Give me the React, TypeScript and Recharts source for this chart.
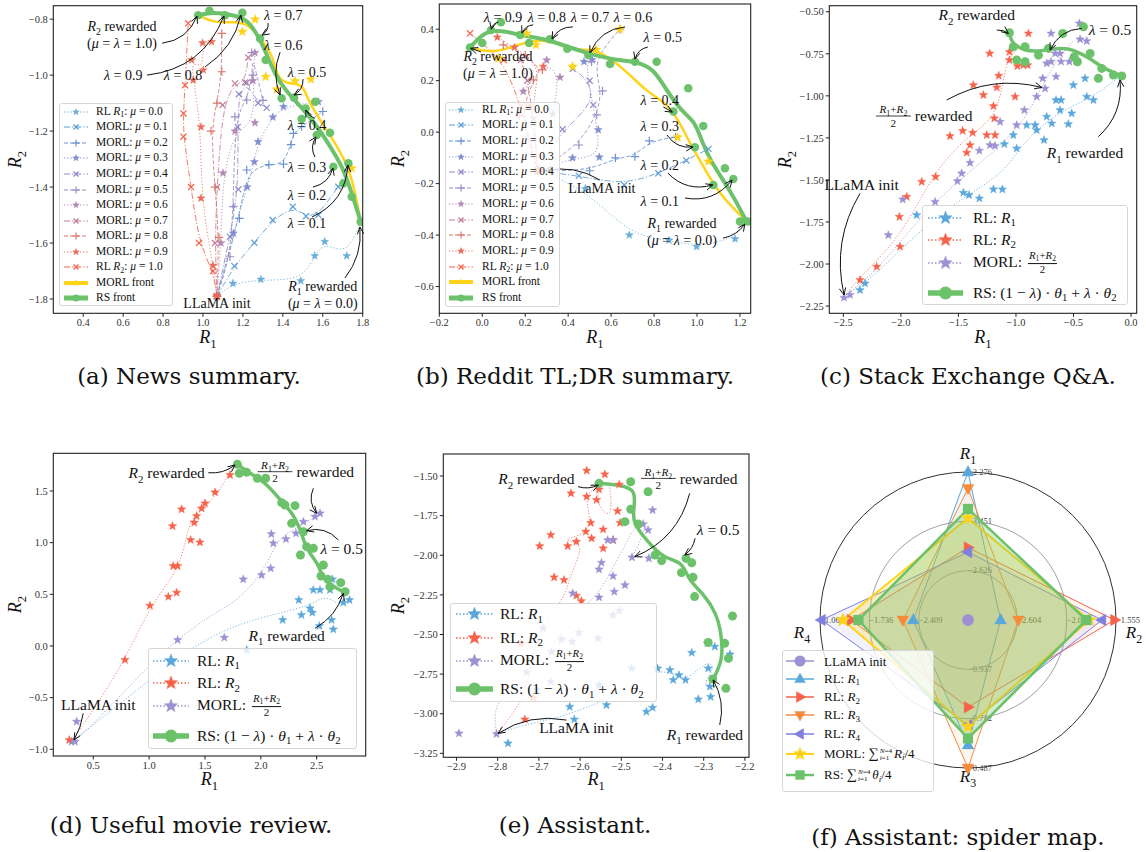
import React from 'react';
import {
  ComposedChart,
  Line,
  Scatter,
  XAxis,
  YAxis,
  RadarChart,
  Radar,
  PolarGrid,
  PolarAngleAxis,
  PolarRadiusAxis,
} from 'recharts';

type Pt = [number, number];
type MarkerKind = 'star' | 'x' | 'plus' | 'circle' | 'square' | 'triUp' | 'triDown' | 'triLeft' | 'triRight';

const SERIF = "'Liberation Serif', 'DejaVu Serif', serif";
const CAPTION_FONT = "'DejaVu Serif', serif";

const BLUE = '#5aa7db';
const RED = '#f7634a';
const PURPLE = '#9d90d3';
const GREEN = '#6cc26b';
const GOLD = '#ffd319';
const ORANGE = '#f68b3c';
const INDIGO = '#7f7fe0';

// mu sweep (news / reddit): blue for mu = 0 through to red for mu = 1
const MU = [0.0, 0.1, 0.2, 0.3, 0.4, 0.5, 0.6, 0.7, 0.8, 0.9, 1.0];
const MU_COLORS = ['#6aaed8', '#5b9bd5', '#6a93d0', '#7f8ecf', '#8b89c9', '#9b8cc6', '#b088b4', '#c07c95', '#d9786f', '#ea6d58', '#f5634a'];
const MU_MARKERS: MarkerKind[] = ['star', 'x', 'plus'];
const MU_DASHES = ['1.2 2', '6 2 1.2 2', '4 2'];

// ---------------- (a) news summary ----------------
const newsXTicks = [0.4, 0.6, 0.8, 1.0, 1.2, 1.4, 1.6, 1.8];
const newsYTicks = [-1.8, -1.6, -1.4, -1.2, -1.0, -0.8];
const newsTraj: Pt[][] = [
  [[1.07, -1.79], [1.15, -1.744], [1.29, -1.73], [1.49, -1.735], [1.56, -1.646], [1.61, -1.595], [1.72, -1.646], [1.79, -1.524]],
  [[1.07, -1.79], [1.157, -1.682], [1.257, -1.599], [1.349, -1.518], [1.45, -1.47], [1.516, -1.504], [1.578, -1.5], [1.678, -1.399], [1.728, -1.333]],
  [[1.07, -1.79], [1.182, -1.512], [1.219, -1.339], [1.33, -1.32], [1.403, -1.318], [1.441, -1.248], [1.453, -1.208], [1.494, -1.184], [1.6, -1.13]],
  [[1.07, -1.79], [1.152, -1.565], [1.221, -1.4], [1.257, -1.31], [1.276, -1.238], [1.35, -1.15], [1.403, -1.113], [1.578, -1.095]],
  [[1.07, -1.79], [1.135, -1.577], [1.177, -1.408], [1.174, -1.185], [1.18, -1.068], [1.219, -1.027], [1.276, -1.1], [1.319, -1.117]],
  [[1.07, -1.79], [1.135, -1.649], [1.152, -1.47], [1.16, -1.149], [1.219, -1.089], [1.25, -1.0], [1.244, -0.92], [1.3, -1.09]],
  [[1.07, -1.79], [1.09, -1.6], [1.1, -1.35], [1.16, -1.2], [1.26, -1.17], [1.25, -1.02], [1.26, -0.92]],
  [[1.07, -1.79], [1.06, -1.6], [1.07, -1.4], [1.098, -1.107], [1.16, -1.03], [1.21, -1.026], [1.227, -0.937]],
  [[1.07, -1.79], [1.08, -1.58], [1.06, -1.4], [1.04, -1.2], [1.07, -1.1], [1.094, -0.988], [1.094, -0.851]],
  [[1.07, -1.79], [1.05, -1.68], [0.99, -1.44], [0.99, -1.185], [0.951, -1.018], [0.943, -0.946], [1.001, -0.982], [0.998, -0.885], [1.043, -0.881]],
  [[1.07, -1.79], [1.05, -1.7], [0.98, -1.6], [0.94, -1.4], [0.902, -1.22], [0.902, -1.137], [0.91, -1.036], [0.926, -0.815]],
];
const newsMorlFront: Pt[] = [
  [0.976, -0.786], [1.052, -0.813], [1.152, -0.81], [1.227, -0.815], [1.302, -0.881], [1.352, -0.935], [1.377, -1.024],
  [1.451, -1.03], [1.501, -1.036], [1.526, -1.089], [1.586, -1.161], [1.653, -1.232], [1.72, -1.315], [1.757, -1.399], [1.79, -1.524],
];
const newsMorlStars: Pt[] = [[1.261, -0.801], [1.197, -0.845], [1.314, -1.006], [1.369, -1.051], [1.461, -1.021], [1.54, -1.015], [1.745, -1.333]];
const newsRsFront: Pt[] = [
  [0.976, -0.786], [1.05, -0.775], [1.15, -0.785], [1.227, -0.8], [1.3, -0.89], [1.36, -1.0], [1.42, -1.06],
  [1.5, -1.12], [1.58, -1.19], [1.65, -1.27], [1.7, -1.33], [1.74, -1.41], [1.79, -1.524],
];
const newsRsDots: Pt[] = [
  [0.976, -0.786], [1.032, -0.77], [1.11, -0.786], [1.197, -0.777], [1.286, -0.869], [1.314, -0.946], [1.394, -1.083],
  [1.456, -1.081], [1.562, -1.095], [1.514, -1.119], [1.494, -1.157], [1.57, -1.214], [1.636, -1.206], [1.653, -1.327],
  [1.728, -1.315], [1.703, -1.387], [1.745, -1.435], [1.79, -1.524],
];

// ---------------- (b) reddit TL;DR ----------------
const redditXTicks = [-0.2, 0.0, 0.2, 0.4, 0.6, 0.8, 1.0, 1.2];
const redditYTicks = [-0.6, -0.4, -0.2, 0.0, 0.2, 0.4];
const redditTraj: Pt[][] = [
  [[0.26, -0.15], [0.48, -0.22], [0.685, -0.4], [0.87, -0.42], [0.998, -0.445], [1.177, -0.415], [1.231, -0.347]],
  [[0.26, -0.15], [0.45, -0.17], [0.661, -0.205], [0.82, -0.16], [0.95, -0.11], [1.053, -0.065]],
  [[0.26, -0.15], [0.5, -0.15], [0.62, -0.1], [0.711, -0.095], [0.778, -0.034], [0.9, -0.02]],
  [[0.26, -0.15], [0.42, -0.1], [0.545, -0.097], [0.54, 0.009], [0.474, 0.274], [0.512, 0.281]],
  [[0.26, -0.15], [0.374, 0.011], [0.517, 0.106], [0.5, 0.2], [0.421, 0.246]],
  [[0.26, -0.15], [0.45, -0.05], [0.533, 0.067], [0.56, 0.16], [0.509, 0.274], [0.641, 0.4]],
  [[0.26, -0.15], [0.328, 0.07], [0.362, 0.213], [0.3, 0.28], [0.191, 0.158]],
  [[0.26, -0.15], [0.24, 0.05], [0.21, 0.2], [0.18, 0.28]],
  [[0.26, -0.15], [0.172, 0.063], [0.238, 0.203], [0.28, 0.242], [0.2, 0.3], [0.098, 0.339]],
  [[0.26, -0.15], [0.22, 0.1], [0.284, 0.255], [0.15, 0.33], [0.07, 0.369]],
  [[0.26, -0.15], [0.18, 0.1], [0.1, 0.28], [-0.057, 0.384]],
];
const redditMorlFront: Pt[] = [
  [-0.057, 0.329], [0.051, 0.307], [0.145, 0.333], [0.238, 0.359], [0.331, 0.352], [0.416, 0.32], [0.471, 0.32], [0.525, 0.32],
  [0.595, 0.287], [0.672, 0.236], [0.765, 0.158], [0.858, 0.112], [0.913, 0.048], [0.967, -0.043], [1.021, -0.121],
  [1.091, -0.224], [1.169, -0.296], [1.231, -0.347],
];
const redditMorlStars: Pt[] = [[0.075, 0.287], [0.207, 0.384], [0.25, 0.339], [0.421, 0.255], [0.53, 0.32], [0.641, 0.4], [0.91, -0.02], [1.053, -0.114]];
const redditRsFront: Pt[] = [
  [-0.057, 0.329], [-0.011, 0.372], [0.041, 0.397], [0.114, 0.391], [0.207, 0.372], [0.3, 0.361], [0.393, 0.333], [0.502, 0.304],
  [0.61, 0.281], [0.719, 0.274], [0.796, 0.248], [0.858, 0.164], [0.921, 0.087], [0.99, 0.041], [1.014, -0.017], [1.06, -0.108],
  [1.122, -0.186], [1.169, -0.25], [1.231, -0.347],
];
const redditRsDots: Pt[] = [
  [-0.057, 0.329], [0.0, 0.346], [0.041, 0.397], [0.087, 0.427], [0.176, 0.378], [0.218, 0.346], [0.315, 0.361], [0.396, 0.324],
  [0.494, 0.3], [0.595, 0.265], [0.711, 0.274], [0.812, 0.274], [0.89, 0.08], [0.959, 0.171], [1.029, 0.024], [0.99, -0.059],
  [1.13, -0.14], [1.076, -0.205], [1.169, -0.182], [1.2, -0.347], [1.236, -0.347],
];

// ---------------- (c) stack exchange ----------------
const stackXTicks = [-2.5, -2.0, -1.5, -1.0, -0.5, 0.0];
const stackYTicks = [-2.25, -2.0, -1.75, -1.5, -1.25, -1.0, -0.75, -0.5];
const stackR1Path: Pt[] = [[-2.5, -2.194], [-2.268, -2.095], [-1.979, -1.897], [-1.689, -1.719], [-1.399, -1.58], [-1.11, -1.461], [-0.965, -1.303], [-0.762, -1.164], [-0.53, -1.065], [-0.327, -1.005], [-0.081, -0.877]];
const stackR1Stars: Pt[] = [
  [-2.355, -2.155], [-2.312, -2.115], [-1.863, -1.709], [-1.457, -1.576], [-1.408, -1.59], [-1.318, -1.61], [-1.196, -1.556],
  [-1.118, -1.556], [-1.023, -1.233], [-0.994, -1.313], [-1.101, -1.287], [-0.907, -1.174], [-0.834, -1.174], [-0.82, -1.204],
  [-0.733, -1.124], [-0.756, -1.263], [-0.689, -1.164], [-0.652, -1.025], [-0.617, -1.085], [-0.608, -1.025], [-0.545, -1.168],
  [-0.516, -1.104], [-0.501, -0.936], [-0.4, -0.896], [-0.385, -1.005], [-0.327, -1.025],
];
const stackR2Path: Pt[] = [[-2.5, -2.194], [-2.268, -2.016], [-2.037, -1.858], [-1.834, -1.62], [-1.689, -1.441], [-1.457, -1.263], [-1.283, -1.184], [-1.167, -1.085], [-1.11, -0.926], [-1.081, -0.787], [-0.994, -0.728]];
const stackR2Stars: Pt[] = [
  [-2.355, -2.095], [-2.21, -2.016], [-2.007, -1.897], [-2.013, -1.719], [-1.949, -1.6], [-1.819, -1.511], [-1.698, -1.481],
  [-1.573, -1.239], [-1.463, -1.208], [-1.376, -1.219], [-1.399, -1.293], [-1.428, -1.338], [-1.254, -1.233], [-1.182, -1.233],
  [-1.37, -0.936], [-1.283, -0.995], [-1.228, -0.748], [-1.167, -0.95], [-1.15, -0.88], [-1.188, -1.134], [-1.196, -1.061],
  [-1.057, -0.738], [-1.057, -0.787], [-1.008, -1.005], [-0.988, -0.823], [-0.936, -0.817], [-0.898, -0.817], [-0.892, -0.629],
];
const stackMorlPath: Pt[] = [[-2.5, -2.194], [-2.268, -2.075], [-2.037, -1.897], [-1.747, -1.659], [-1.486, -1.501], [-1.283, -1.382], [-1.081, -1.263], [-0.907, -1.124], [-0.762, -0.926], [-0.646, -0.787], [-0.501, -0.668]];
const stackMorlStars: Pt[] = [
  [-2.494, -2.2], [-2.442, -2.184], [-2.109, -1.828], [-1.984, -1.616], [-1.703, -1.63], [-1.509, -1.507], [-1.472, -1.461],
  [-1.399, -1.398], [-1.318, -1.326], [-1.225, -1.293], [-1.182, -1.297], [-1.138, -1.154], [-0.994, -1.174], [-0.927, -1.085],
  [-0.82, -1.005], [-0.768, -0.896], [-0.747, -0.956], [-0.652, -0.886], [-0.733, -0.807], [-0.695, -0.797], [-0.66, -0.748],
  [-0.617, -0.748], [-0.608, -0.797], [-0.695, -0.629], [-0.536, -0.797], [-0.449, -0.569], [-0.443, -0.664], [-0.385, -0.674],
];
const stackRsPath: Pt[] = [[-1.057, -0.625], [-1.037, -0.688], [-0.936, -0.728], [-0.82, -0.738], [-0.675, -0.718], [-0.53, -0.718], [-0.443, -0.748], [-0.356, -0.777], [-0.24, -0.837], [-0.081, -0.882]];
const stackRsDots: Pt[] = [
  [-1.057, -0.625], [-1.023, -0.708], [-0.994, -0.787], [-0.921, -0.797], [-0.921, -0.708], [-0.805, -0.758], [-0.718, -0.718],
  [-0.594, -0.629], [-0.495, -0.768], [-0.466, -0.797], [-0.414, -0.589], [-0.356, -0.748], [-0.255, -0.837], [-0.284, -0.896],
  [-0.153, -0.876], [-0.081, -0.882],
];

// ---------------- (d) useful movie review ----------------
const movieXTicks = [0.5, 1.0, 1.5, 2.0, 2.5];
const movieYTicks = [-1.0, -0.5, 0.0, 0.5, 1.0, 1.5];
const movieR1Path: Pt[] = [[0.306, -0.926], [0.858, -0.458], [1.455, 0.058], [1.903, 0.252], [2.291, 0.348], [2.47, 0.413], [2.56, 0.477], [2.649, 0.445], [2.709, 0.381], [2.739, 0.542]];
const movieR1Stars: Pt[] = [
  [0.306, -0.926], [1.873, -0.039], [2.196, 0.252], [2.34, 0.445], [2.364, 0.3], [2.44, 0.365], [2.461, 0.323], [2.47, 0.542],
  [2.53, 0.542], [2.619, 0.542], [2.64, 0.645], [2.634, 0.252], [2.649, 0.161], [2.524, 0.194], [2.739, 0.419], [2.794, 0.445], [2.709, 0.613],
];
const movieR2Path: Pt[] = [[0.306, -0.926], [0.56, -0.523], [0.799, -0.103], [1.007, 0.381], [1.216, 0.671], [1.291, 0.865], [1.336, 1.058], [1.381, 1.252], [1.485, 1.316], [1.634, 1.51], [1.754, 1.735]];
const movieR2Stars: Pt[] = [
  [0.285, -0.91], [0.784, -0.135], [1.007, 0.39], [1.172, 0.477], [1.246, 0.516], [1.216, 0.774], [1.255, 0.774], [1.372, 1.026],
  [1.455, 1.003], [1.404, 1.194], [1.425, 1.258], [1.291, 1.323], [1.209, 1.161], [1.47, 1.332], [1.5, 1.381], [1.59, 1.487], [1.724, 1.655],
];
const movieMorlPath: Pt[] = [[0.336, -0.926], [0.709, -0.523], [1.157, -0.006], [1.575, 0.316], [1.813, 0.445], [2.052, 0.768], [2.142, 1.026], [2.291, 1.123], [2.485, 1.252]];
const movieMorlStars: Pt[] = [
  [0.336, -0.926], [0.351, -0.732], [1.255, 0.058], [1.673, 0.081], [1.843, 0.645], [2.007, 0.687], [2.088, 0.752], [2.094, 1.084],
  [2.112, 0.994], [2.225, 1.035], [2.315, 1.09], [2.381, 1.203], [2.485, 1.252], [2.53, 1.284],
];
const movieRsPath: Pt[] = [[1.79, 1.758], [1.903, 1.671], [2.052, 1.574], [2.172, 1.413], [2.291, 1.284], [2.366, 1.09], [2.41, 0.929], [2.515, 0.8], [2.545, 0.671], [2.649, 0.574], [2.739, 0.526]];
const movieRsDots: Pt[] = [
  [1.79, 1.758], [1.807, 1.671], [1.873, 1.681], [1.969, 1.623], [2.043, 1.623], [2.187, 1.387], [2.216, 1.365], [2.306, 1.358],
  [2.276, 1.187], [2.381, 1.106], [2.41, 0.961], [2.47, 0.945], [2.355, 0.881], [2.56, 0.784], [2.539, 0.677], [2.6, 0.645],
  [2.619, 0.574], [2.716, 0.613], [2.755, 0.526],
];

// ---------------- (e) assistant ----------------
const assistXTicks = [-2.9, -2.8, -2.7, -2.6, -2.5, -2.4, -2.3, -2.2];
const assistYTicks = [-3.25, -3.0, -2.75, -2.5, -2.25, -2.0, -1.75, -1.5];
const assistR1Path: Pt[] = [[-2.803, -3.124], [-2.722, -3.061], [-2.641, -3.019], [-2.56, -2.935], [-2.503, -2.872], [-2.439, -2.745], [-2.382, -2.724], [-2.344, -2.808], [-2.293, -2.661], [-2.269, -2.703], [-2.309, -2.829], [-2.261, -2.829]];
const assistR1Stars: Pt[] = [
  [-2.775, -3.187], [-2.706, -2.85], [-2.625, -2.956], [-2.614, -3.036], [-2.536, -2.945], [-2.554, -2.819], [-2.475, -2.714],
  [-2.439, -2.987], [-2.424, -2.962], [-2.412, -2.714], [-2.382, -2.724], [-2.374, -2.787], [-2.36, -2.756], [-2.344, -2.787],
  [-2.329, -2.615], [-2.313, -2.909], [-2.291, -2.556], [-2.289, -2.714], [-2.285, -2.829], [-2.283, -2.893], [-2.273, -2.577], [-2.236, -2.625],
];
const assistR2Path: Pt[] = [[-2.803, -3.124], [-2.746, -2.956], [-2.722, -2.745], [-2.698, -2.451], [-2.633, -2.261], [-2.625, -2.114], [-2.584, -1.925], [-2.649, -1.904], [-2.601, -1.883], [-2.568, -1.799], [-2.593, -1.63], [-2.552, -1.546], [-2.56, -1.694], [-2.52, -1.778], [-2.528, -1.567]];
const assistR2Stars: Pt[] = [
  [-2.584, -1.466], [-2.54, -1.489], [-2.622, -1.609], [-2.554, -1.584], [-2.584, -1.63], [-2.505, -1.553], [-2.56, -1.651],
  [-2.509, -1.721], [-2.503, -1.795], [-2.574, -1.795], [-2.671, -1.872], [-2.698, -1.942], [-2.63, -1.942], [-2.609, -1.914],
  [-2.586, -1.851], [-2.572, -1.893], [-2.544, -1.837], [-2.544, -1.956], [-2.52, -1.904], [-2.663, -2.139], [-2.639, -2.156],
  [-2.609, -2.255], [-2.597, -2.289], [-2.744, -2.556], [-2.714, -2.899], [-2.734, -3.036],
];
const assistMorlPath: Pt[] = [[-2.803, -3.124], [-2.811, -2.956], [-2.771, -2.85], [-2.706, -2.787], [-2.682, -2.64], [-2.617, -2.367], [-2.568, -2.283], [-2.536, -2.156], [-2.52, -2.072], [-2.487, -1.925], [-2.471, -1.82], [-2.431, -1.788], [-2.471, -1.999]];
const assistMorlStars: Pt[] = [
  [-2.894, -3.124], [-2.803, -3.128], [-2.73, -2.739], [-2.671, -2.798], [-2.69, -2.461], [-2.669, -2.609], [-2.645, -2.531],
  [-2.619, -2.546], [-2.603, -2.489], [-2.556, -2.524], [-2.554, -2.266], [-2.554, -2.089], [-2.548, -2.047], [-2.533, -1.904],
  [-2.52, -1.904], [-2.52, -2.131], [-2.517, -2.23], [-2.52, -2.377], [-2.505, -2.35], [-2.491, -2.188], [-2.474, -2.013],
  [-2.447, -1.803], [-2.435, -1.841], [-2.433, -2.019], [-2.424, -1.715], [-2.618, -2.24],
];
const assistRsPath: Pt[] = [[-2.554, -1.546], [-2.503, -1.557], [-2.463, -1.588], [-2.471, -1.715], [-2.471, -1.799], [-2.439, -1.904], [-2.398, -2.02], [-2.35, -2.041], [-2.338, -2.156], [-2.301, -2.24], [-2.269, -2.367], [-2.257, -2.493], [-2.253, -2.661], [-2.277, -2.781]];
const assistRsDots: Pt[] = [
  [-2.554, -1.546], [-2.477, -1.536], [-2.435, -1.599], [-2.477, -1.71], [-2.491, -1.788], [-2.459, -1.803], [-2.418, -1.999],
  [-2.402, -2.034], [-2.343, -2.02], [-2.329, -2.047], [-2.354, -2.11], [-2.326, -2.139], [-2.322, -2.261], [-2.23, -2.383],
  [-2.289, -2.55], [-2.249, -2.556], [-2.24, -2.651], [-2.278, -2.781], [-2.246, -2.84],
];

// ---------------- (f) spider map ----------------
const RADAR_AXES = ['R1', 'R2', 'R3', 'R4'];
const radarInit = [-2.801, -3.129, -1.162, -3.082];
// reward at the three rings of each axis (inner, middle, outer)
const radarRings = [
  [-2.626, -2.451, -2.276],
  [-2.604, -2.079, -1.555],
  [-0.937, -0.712, -0.487],
  [-2.409, -1.736, -1.063],
];
const radarRL1 = [-2.276, -2.782, -0.592, -2.335];
const radarRL2 = [-2.544, -1.571, -0.764, -1.487];
const radarRL3 = [-2.334, -2.593, -0.487, -2.194];
const radarRL4 = [-2.56, -1.704, -0.683, -1.083];
const radarMorl = [-2.439, -1.838, -0.676, -1.376];
const radarRs = [-2.407, -1.87, -0.622, -1.588];

// ---------------- helpers ----------------
interface Seg { t: string; it: boolean; sub: boolean }

function parseMath(src: string): Seg[] {
  const out: Seg[] = [];
  let math = false;
  for (let k = 0; k < src.length; k++) {
    const c = src[k];
    if (c === '$') { math = !math; continue; }
    let seg: Seg;
    if (math && c === '_') {
      seg = { t: src[k + 1], it: /[A-Za-z]/.test(src[k + 1]), sub: true };
      k++;
    } else {
      seg = { t: c, it: math && /[A-Za-zλμθ]/.test(c), sub: false };
    }
    const last = out[out.length - 1];
    if (last && last.it === seg.it && last.sub === seg.sub) last.t += seg.t;
    else out.push(seg);
  }
  return out;
}

function mathTspans(src: string, fs: number) {
  let shift = 0;
  return parseMath(src).map((s, i) => {
    const target = s.sub ? fs * 0.28 : 0;
    const dy = target - shift;
    shift = target;
    return (
      <tspan key={i} dy={dy} fontStyle={s.it ? 'italic' : 'normal'} fontSize={s.sub ? fs * 0.7 : fs}>
        {s.t}
      </tspan>
    );
  });
}

function MathHtml({ src }: { src: string }) {
  return (
    <>
      {parseMath(src).map((s, i) =>
        s.sub ? (
          <span key={i} style={{ fontSize: '0.7em', position: 'relative', top: '0.3em', fontStyle: s.it ? 'italic' : 'normal' }}>{s.t}</span>
        ) : (
          <span key={i} style={{ fontStyle: s.it ? 'italic' : 'normal' }}>{s.t}</span>
        )
      )}
    </>
  );
}

function FracHtml() {
  return (
    <span style={{ display: 'inline-flex', flexDirection: 'column', alignItems: 'center', verticalAlign: 'middle', fontSize: '0.7em', lineHeight: 1.1, margin: '0 2px' }}>
      <span style={{ borderBottom: '0.8px solid #111', padding: '0 1px 1px' }}><MathHtml src="$R_1+R_2$" /></span>
      <span>2</span>
    </span>
  );
}

// sum with its limits set to the right of the sign, as in text-style maths
function SumHtml({ sym }: { sym: string }) {
  return (
    <span>
      <span style={{ fontSize: '1.1em' }}>∑</span>
      <span style={{ display: 'inline-flex', flexDirection: 'column', fontSize: '0.55em', lineHeight: 0.92, verticalAlign: 'middle', margin: '0 2px 0 1px' }}>
        <span><i>N</i>=4</span>
        <span><i>i</i>=1</span>
      </span>
      <i>{sym}</i>
      <span style={{ fontSize: '0.7em', position: 'relative', top: '0.3em', fontStyle: 'italic' }}>i</span>/4
    </span>
  );
}

function Marker({ kind, cx, cy, size, color, sw = 1.2 }: { kind: MarkerKind; cx: number; cy: number; size: number; color: string; sw?: number }) {
  if (cx == null || cy == null || isNaN(cx) || isNaN(cy)) return <g />;
  const r = size / 2;
  const poly = (pts: Pt[]) => <polygon points={pts.map((p) => `${p[0]},${p[1]}`).join(' ')} fill={color} stroke={color} strokeWidth={0.4} />;
  switch (kind) {
    case 'star': {
      const pts: Pt[] = [];
      for (let i = 0; i < 10; i++) {
        const a = -Math.PI / 2 + (i * Math.PI) / 5;
        const rr = i % 2 ? r * 0.42 : r;
        pts.push([cx + rr * Math.cos(a), cy + rr * Math.sin(a)]);
      }
      return poly(pts);
    }
    case 'x': {
      const d = r * 0.72;
      return (
        <g stroke={color} strokeWidth={sw}>
          <line x1={cx - d} y1={cy - d} x2={cx + d} y2={cy + d} />
          <line x1={cx - d} y1={cy + d} x2={cx + d} y2={cy - d} />
        </g>
      );
    }
    case 'plus':
      return (
        <g stroke={color} strokeWidth={sw}>
          <line x1={cx - r} y1={cy} x2={cx + r} y2={cy} />
          <line x1={cx} y1={cy - r} x2={cx} y2={cy + r} />
        </g>
      );
    case 'circle':
      return <circle cx={cx} cy={cy} r={r} fill={color} />;
    case 'square':
      return <rect x={cx - r * 0.85} y={cy - r * 0.85} width={r * 1.7} height={r * 1.7} fill={color} />;
    case 'triUp':
      return poly([[cx, cy - r], [cx - r * 0.9, cy + r * 0.6], [cx + r * 0.9, cy + r * 0.6]]);
    case 'triDown':
      return poly([[cx, cy + r], [cx - r * 0.9, cy - r * 0.6], [cx + r * 0.9, cy - r * 0.6]]);
    case 'triLeft':
      return poly([[cx - r, cy], [cx + r * 0.6, cy - r * 0.9], [cx + r * 0.6, cy + r * 0.9]]);
    case 'triRight':
      return poly([[cx + r, cy], [cx - r * 0.6, cy - r * 0.9], [cx - r * 0.6, cy + r * 0.9]]);
  }
  return <g />;
}

const rows = (pts: Pt[]) => pts.map(([x, y]) => ({ x, y }));
const fmt = (digits: number) => (v: number) => v.toFixed(digits).replace('-', '\u2212');

interface Frame {
  left: number; top: number; width: number; height: number;
  px: number; py: number; pw: number; ph: number;
  xDomain: [number, number]; yDomain: [number, number];
  xTicks: number[]; yTicks: number[]; xDigits: number; yDigits: number;
}

interface Trace { path?: Pt[]; points?: Pt[]; color: string; lw?: number; dash?: string; marker?: MarkerKind; ms?: number; lineOpacity?: number }

interface Note { text: string; at: Pt; from?: Pt; to?: Pt; rad?: number; frac?: boolean }

interface LegendItem { label: string; color: string; marker: MarkerKind; ms: number; lw: number; dash?: string; extra?: 'frac' | 'sumR' | 'sumTheta' }

interface LegendBox { left: number; top: number; width: number; height: number; fs: number; centers: number[]; rowH: number; sampleX: number; sampleW: number; textX: number }

function toPx(f: Frame, p: Pt): Pt {
  const [x0, x1] = f.xDomain;
  const [y0, y1] = f.yDomain;
  return [f.px + ((p[0] - x0) / (x1 - x0)) * f.pw, f.py + ((y1 - p[1]) / (y1 - y0)) * f.ph];
}

function traceNodes(t: Trace, id: string) {
  const out: React.ReactNode[] = [];
  if (t.path) {
    out.push(
      <Line
        key={id + 'l'}
        data={rows(t.path)}
        dataKey="y"
        type="basis"
        stroke={t.color}
        strokeWidth={t.lw ?? 1}
        strokeDasharray={t.dash}
        strokeOpacity={t.lineOpacity ?? 1}
        dot={false}
        activeDot={false}
        isAnimationActive={false}
      />
    );
  }
  if (t.points && t.marker) {
    const kind = t.marker;
    const ms = t.ms ?? 8;
    out.push(
      <Scatter
        key={id + 's'}
        data={rows(t.points)}
        fill={t.color}
        isAnimationActive={false}
        shape={(p: any) => <Marker kind={kind} cx={p.cx} cy={p.cy} size={ms} color={t.color} />}
      />
    );
  }
  return out;
}

function CurvedArrow({ a, b, rad }: { a: Pt; b: Pt; rad: number }) {
  const mx = (a[0] + b[0]) / 2;
  const my = (a[1] + b[1]) / 2;
  const dx = b[0] - a[0];
  const dy = b[1] - a[1];
  const c: Pt = [mx + rad * dy, my - rad * dx];
  const tx = b[0] - c[0];
  const ty = b[1] - c[1];
  const L = Math.hypot(tx, ty) || 1;
  const ux = tx / L;
  const uy = ty / L;
  const hl = 7;
  const hw = 3.2;
  const h1: Pt = [b[0] - ux * hl - uy * hw, b[1] - uy * hl + ux * hw];
  const h2: Pt = [b[0] - ux * hl + uy * hw, b[1] - uy * hl - ux * hw];
  return (
    <g fill="none" stroke="#111" strokeWidth={1}>
      <path d={`M${a[0]},${a[1]} Q${c[0]},${c[1]} ${b[0]},${b[1]}`} />
      <path d={`M${h1[0]},${h1[1]} L${b[0]},${b[1]} L${h2[0]},${h2[1]}`} />
    </g>
  );
}

function NoteLayer({ frame, notes, fs, ylabelX, xlabelY }: { frame: Frame; notes: Note[]; fs: number; ylabelX: number; xlabelY: number }) {
  const f = frame;
  const midY = f.py + f.ph / 2;
  return (
    <svg width={f.width} height={f.height} style={{ position: 'absolute', left: 0, top: 0, overflow: 'visible', pointerEvents: 'none' }}>
      <rect x={f.px} y={f.py} width={f.pw} height={f.ph} fill="none" stroke="#222" strokeWidth={1.1} />
      <text x={f.px + f.pw / 2} y={xlabelY} textAnchor="middle" fontFamily={SERIF} fontSize={18} fill="#111">
        {mathTspans('$R_1$', 18)}
      </text>
      <text x={ylabelX} y={midY} textAnchor="middle" fontFamily={SERIF} fontSize={18} fill="#111" transform={`rotate(-90 ${ylabelX} ${midY})`}>
        {mathTspans('$R_2$', 18)}
      </text>
      {notes.map((n, i) => {
        const [x, y] = toPx(f, n.at);
        const arrow = n.from && n.to ? <CurvedArrow a={toPx(f, n.from)} b={toPx(f, n.to)} rad={n.rad ?? 0} /> : null;
        if (n.frac) {
          const s = fs * 0.72;
          const w = fs * 2.25;
          return (
            <g key={i} fontFamily={SERIF} fill="#111">
              <text x={x} y={y - fs * 0.18} textAnchor="middle" fontSize={s} style={{ whiteSpace: 'pre' }}>{mathTspans('$R_1+R_2$', s)}</text>
              <line x1={x - w / 2} x2={x + w / 2} y1={y} y2={y} stroke="#111" strokeWidth={0.8} />
              <text x={x} y={y + s * 0.95} textAnchor="middle" fontSize={s}>2</text>
              <text x={x + w / 2 + 4} y={y + fs * 0.33} fontSize={fs} style={{ whiteSpace: 'pre' }}>{n.text}</text>
              {arrow}
            </g>
          );
        }
        const lines = n.text.split('\n');
        const lh = fs * 1.2;
        return (
          <g key={i}>
            <text textAnchor="middle" fontFamily={SERIF} fontSize={fs} fill="#111" style={{ whiteSpace: 'pre' }}>
              {lines.map((ln, j) => (
                <tspan key={j} x={x} y={y + (j - (lines.length - 1) / 2) * lh + fs * 0.33}>
                  {mathTspans(ln, fs)}
                </tspan>
              ))}
            </text>
            {arrow}
          </g>
        );
      })}
    </svg>
  );
}

function LegendPanel({ box, items }: { box: LegendBox; items: LegendItem[] }) {
  return (
    <div
      style={{
        position: 'absolute', left: box.left, top: box.top, width: box.width, height: box.height, boxSizing: 'border-box',
        border: '1px solid #d6d6d6', borderRadius: 3, background: 'rgba(255,255,255,0.8)',
        fontFamily: SERIF, fontSize: box.fs, color: '#111',
      }}
    >
      {items.map((it, i) => {
        const c = box.centers[i];
        const h = box.rowH;
        return (
          <React.Fragment key={i}>
            <svg width={box.sampleW} height={h} style={{ position: 'absolute', left: box.sampleX, top: c - h / 2, overflow: 'visible' }}>
              <line x1={0} x2={box.sampleW} y1={h / 2} y2={h / 2} stroke={it.color} strokeWidth={it.lw} strokeDasharray={it.dash} />
              <Marker kind={it.marker} cx={box.sampleW / 2} cy={h / 2} size={it.ms} color={it.color} />
            </svg>
            <span style={{ position: 'absolute', left: box.textX, top: c, transform: 'translateY(-50%)', whiteSpace: 'pre', lineHeight: 1 }}>
              <MathHtml src={it.label} />
              {it.extra === 'frac' && <FracHtml />}
              {it.extra === 'sumR' && <SumHtml sym="R" />}
              {it.extra === 'sumTheta' && <SumHtml sym="θ" />}
            </span>
          </React.Fragment>
        );
      })}
    </div>
  );
}

function Caption({ text, cx, top }: { text: string; cx: number; top: number }) {
  return (
    <div style={{ position: 'absolute', left: cx - 200, top, width: 400, textAlign: 'center', fontFamily: CAPTION_FONT, fontSize: 23, lineHeight: 1, color: '#111', whiteSpace: 'nowrap' }}>
      {text}
    </div>
  );
}

const tickStyle = { fontSize: 10.5, fill: '#333', fontFamily: SERIF };

function ChartPanel(props: {
  frame: Frame; traces: Trace[]; notes: Note[]; noteSize: number; legend: LegendBox; legendItems: LegendItem[];
  caption: string; captionX: number; captionTop: number; ylabelX: number; xlabelY: number;
}) {
  const f = props.frame;
  return (
    <div style={{ position: 'absolute', left: f.left, top: f.top, width: f.width, height: f.height }}>
      <ComposedChart width={f.width} height={f.height} margin={{ top: f.py, right: f.width - f.px - f.pw, bottom: 0, left: 0 }}>
        <XAxis
          type="number" dataKey="x" domain={f.xDomain} ticks={f.xTicks} allowDataOverflow interval={0}
          height={f.height - f.py - f.ph} axisLine={false} tickLine={{ stroke: '#222' }} tickSize={3.5} tickMargin={2}
          tick={tickStyle} tickFormatter={fmt(f.xDigits)}
        />
        <YAxis
          type="number" dataKey="y" domain={f.yDomain} ticks={f.yTicks} allowDataOverflow interval={0}
          width={f.px} axisLine={false} tickLine={{ stroke: '#222' }} tickSize={3.5} tickMargin={2}
          tick={tickStyle} tickFormatter={fmt(f.yDigits)}
        />
        {props.traces.flatMap((t, i) => traceNodes(t, `t${i}`))}
      </ComposedChart>
      <NoteLayer frame={f} notes={props.notes} fs={props.noteSize} ylabelX={props.ylabelX} xlabelY={props.xlabelY} />
      <LegendPanel box={props.legend} items={props.legendItems} />
      <Caption text={props.caption} cx={props.captionX} top={props.captionTop} />
    </div>
  );
}

// ---------------- per-panel setup ----------------
const muTraces = (traj: Pt[][]): Trace[] =>
  traj.map((path, i) => ({
    path, points: path, color: MU_COLORS[i], lw: 1, dash: MU_DASHES[i % 3], marker: MU_MARKERS[i % 3], ms: 8.5, lineOpacity: 0.85,
  }));

const muLegend: LegendItem[] = [
  ...MU.map((m, i) => ({
    label: i === 0 ? 'RL $R_1$: $μ = 0.0$' : i === 10 ? 'RL $R_2$: $μ = 1.0$' : `MORL: $μ = ${m.toFixed(1)}$`,
    color: MU_COLORS[i], marker: MU_MARKERS[i % 3], ms: 7, lw: 1.2, dash: MU_DASHES[i % 3],
  })),
  { label: 'MORL front', color: GOLD, marker: 'star' as MarkerKind, ms: 6, lw: 4 },
  { label: 'RS front', color: GREEN, marker: 'circle' as MarkerKind, ms: 7, lw: 5 },
];

const pairLegend: LegendItem[] = [
  { label: 'RL: $R_1$', color: BLUE, marker: 'star', ms: 14, lw: 1.5, dash: '1.5 2' },
  { label: 'RL: $R_2$', color: RED, marker: 'star', ms: 14, lw: 1.5, dash: '1.5 2' },
  { label: 'MORL: ', color: PURPLE, marker: 'star', ms: 14, lw: 1.5, dash: '1.5 2', extra: 'frac' },
  { label: 'RS: $(1 − λ) · θ_1 + λ · θ_2$', color: GREEN, marker: 'circle', ms: 13, lw: 5.5 },
];

const pairTraces = (r1: Pt[], r1s: Pt[], r2: Pt[], r2s: Pt[], mo: Pt[], mos: Pt[], rs: Pt[], rsd: Pt[]): Trace[] => [
  { path: r1, color: BLUE, lw: 1, dash: '1.2 1.8', lineOpacity: 0.8 },
  { points: r1s, color: BLUE, marker: 'star', ms: 9 },
  { path: r2, color: RED, lw: 1, dash: '1.2 1.8', lineOpacity: 0.8 },
  { points: r2s, color: RED, marker: 'star', ms: 9 },
  { path: mo, color: PURPLE, lw: 1, dash: '1.2 1.8', lineOpacity: 0.8 },
  { points: mos, color: PURPLE, marker: 'star', ms: 9 },
  { path: rs, color: GREEN, lw: 3.5 },
  { points: rsd, color: GREEN, marker: 'circle', ms: 9 },
];

const newsFrame: Frame = { left: 0, top: 0, width: 380, height: 350, px: 53.3, py: 5.7, pw: 309.4, ph: 307.6, xDomain: [0.25, 1.8], yDomain: [-1.851, -0.752], xTicks: newsXTicks, yTicks: newsYTicks, xDigits: 1, yDigits: 1 };
const redditFrame: Frame = { left: 380, top: 0, width: 390, height: 350, px: 59.3, py: 4, pw: 311.4, ph: 309.3, xDomain: [-0.2, 1.25], yDomain: [-0.704, 0.498], xTicks: redditXTicks, yTicks: redditYTicks, xDigits: 1, yDigits: 1 };
const stackFrame: Frame = { left: 770, top: 0, width: 376, height: 350, px: 59.3, py: 5.7, pw: 307.4, ph: 307.6, xDomain: [-2.622, 0.049], yDomain: [-2.293, -0.464], xTicks: stackXTicks, yTicks: stackYTicks, xDigits: 1, yDigits: 2 };
const movieFrame: Frame = { left: 0, top: 440, width: 380, height: 350, px: 53.3, py: 13.3, pw: 312.4, ph: 302.7, xDomain: [0.142, 2.939], yDomain: [-1.065, 1.865], xTicks: movieXTicks, yTicks: movieYTicks, xDigits: 1, yDigits: 1 };
const assistFrame: Frame = { left: 380, top: 440, width: 390, height: 350, px: 63.3, py: 14, pw: 305.7, ph: 303.3, xDomain: [-2.932, -2.19], yDomain: [-3.275, -1.361], xTicks: assistXTicks, yTicks: assistYTicks, xDigits: 1, yDigits: 2 };

const newsNotes: Note[] = [
  { text: '$R_2$ rewarded\n($μ = λ = 1.0$)', at: [0.594, -0.857], from: [0.795, -0.886], to: [0.97, -0.789], rad: -0.3 },
  { text: '$λ = 0.9$', at: [0.6, -1.0], from: [0.719, -1.0], to: [1.105, -0.789], rad: -0.3 },
  { text: '$λ = 0.8$', at: [0.9, -1.0], from: [1.01, -0.971], to: [1.19, -0.786], rad: -0.2 },
  { text: '$λ = 0.7$', at: [1.402, -0.786], from: [1.326, -0.814], to: [1.296, -0.857], rad: 0.3 },
  { text: '$λ = 0.6$', at: [1.402, -0.893], from: [1.386, -0.918], to: [1.386, -1.071], rad: -0.2 },
  { text: '$λ = 0.5$', at: [1.521, -0.989], from: [1.501, -1.014], to: [1.456, -1.071], rad: 0.3 },
  { text: '$λ = 0.4$', at: [1.521, -1.179], from: [1.56, -1.155], to: [1.515, -1.125], rad: 0.2 },
  { text: '$λ = 0.3$', at: [1.521, -1.329], from: [1.561, -1.293], to: [1.566, -1.221], rad: 0.3 },
  { text: '$λ = 0.2$', at: [1.521, -1.429], from: [1.551, -1.4], to: [1.651, -1.332], rad: -0.3 },
  { text: '$λ = 0.1$', at: [1.521, -1.529], from: [1.546, -1.507], to: [1.726, -1.321], rad: -0.3 },
  { text: '$R_1$ rewarded\n($μ = λ = 0.0$)', at: [1.6, -1.786], from: [1.711, -1.725], to: [1.786, -1.543], rad: -0.2 },
  { text: 'LLaMA init', at: [1.07, -1.814] },
];

const redditNotes: Note[] = [
  { text: '$λ = 0.9$', at: [0.097, 0.447], from: [0.075, 0.428], to: [0.042, 0.4], rad: -0.3 },
  { text: '$λ = 0.8$', at: [0.301, 0.447], from: [0.237, 0.417], to: [0.185, 0.385], rad: -0.3 },
  { text: '$λ = 0.7$', at: [0.502, 0.447], from: [0.422, 0.409], to: [0.325, 0.362], rad: -0.3 },
  { text: '$λ = 0.6$', at: [0.702, 0.447], from: [0.665, 0.409], to: [0.502, 0.308], rad: -0.3 },
  { text: '$λ = 0.5$', at: [0.841, 0.37], from: [0.771, 0.331], to: [0.711, 0.284], rad: -0.3 },
  { text: '$λ = 0.4$', at: [0.827, 0.125], from: [0.843, 0.098], to: [0.885, 0.078], rad: 0 },
  { text: '$λ = 0.3$', at: [0.827, 0.024], from: [0.86, -0.011], to: [0.981, -0.058], rad: -0.3 },
  { text: '$λ = 0.2$', at: [0.827, -0.128], from: [0.864, -0.159], to: [1.074, -0.205], rad: -0.3 },
  { text: '$λ = 0.1$', at: [0.827, -0.271], from: [0.944, -0.256], to: [1.163, -0.186], rad: -0.3 },
  { text: '$R_1$ rewarded\n($μ = λ = 0.0$)', at: [0.93, -0.388], from: [1.121, -0.412], to: [1.223, -0.357], rad: -0.2 },
  { text: '$R_2$ rewarded\n($μ = λ = 1.0$)', at: [0.073, 0.261], from: [-0.006, 0.312], to: [-0.054, 0.326], rad: 0 },
  { text: 'LLaMA init', at: [0.557, -0.217], from: [0.548, -0.186], to: [0.292, -0.15], rad: -0.2 },
];

const stackNotes: Note[] = [
  { text: '$R_2$ rewarded', at: [-1.341, -0.52], from: [-1.167, -0.609], to: [-1.066, -0.629], rad: 0.2 },
  { text: '$λ = 0.5$', at: [-0.183, -0.609], from: [-0.429, -0.599], to: [-0.704, -0.728], rad: -0.3 },
  { text: 'rewarded', frac: true, at: [-2.065, -1.12], from: [-1.602, -1.025], to: [-0.776, -0.95], rad: 0.2 },
  { text: '$R_1$ rewarded', at: [-0.4, -1.342], from: [-0.284, -1.243], to: [-0.096, -0.906], rad: -0.25 },
  { text: 'LLaMA init', at: [-2.341, -1.531], from: [-2.355, -1.58], to: [-2.494, -2.184], rad: -0.2 },
];

const movieNotes: Note[] = [
  { text: '$R_2$ rewarded', at: [1.157, 1.671], from: [1.53, 1.677], to: [1.769, 1.752], rad: -0.2 },
  { text: 'rewarded', frac: true, at: [2.127, 1.687], from: [2.47, 1.526], to: [2.5, 1.284], rad: -0.3 },
  { text: '$λ = 0.5$', at: [2.724, 0.935], from: [2.694, 1.026], to: [2.41, 1.116], rad: -0.3 },
  { text: '$R_1$ rewarded', at: [2.231, 0.097], from: [2.485, 0.171], to: [2.739, 0.51], rad: -0.2 },
  { text: 'LLaMA init', at: [0.545, -0.571], from: [0.41, -0.652], to: [0.327, -0.91], rad: 0.1 },
];

const assistNotes: Note[] = [
  { text: '$R_2$ rewarded', at: [-2.706, -1.521], from: [-2.605, -1.567], to: [-2.556, -1.557], rad: -0.2 },
  { text: 'rewarded', frac: true, at: [-2.41, -1.515], from: [-2.334, -1.609], to: [-2.467, -2.009], rad: 0.25 },
  { text: '$λ = 0.5$', at: [-2.265, -1.841], from: [-2.321, -1.893], to: [-2.346, -1.999], rad: 0.2 },
  { text: '$R_1$ rewarded', at: [-2.297, -3.134], from: [-2.261, -3.071], to: [-2.277, -2.787], rad: -0.2 },
  { text: 'LLaMA init', at: [-2.609, -3.092], from: [-2.633, -3.04], to: [-2.799, -3.124], rad: -0.2 },
];

const range = (n: number, start: number, step: number) => Array.from({ length: n }, (_, i) => start + i * step);

const newsLegendBox: LegendBox = { left: 59, top: 103, width: 114, height: 203, fs: 11.5, centers: range(13, 7.8, 15.55), rowH: 14, sampleX: 4, sampleW: 24, textX: 36 };
const redditLegendBox: LegendBox = { left: 65, top: 102, width: 115, height: 205, fs: 11.5, centers: range(13, 6.6, 15.7), rowH: 14, sampleX: 3, sampleW: 24, textX: 36 };
const stackLegendBox: LegendBox = { left: 152, top: 205, width: 206, height: 100, fs: 15.5, centers: [11.7, 34, 56.7, 86.7], rowH: 20, sampleX: 5, sampleW: 35, textX: 50 };
const movieLegendBox: LegendBox = { left: 148, top: 208, width: 209, height: 101, fs: 15.5, centers: [12, 34.3, 57, 87], rowH: 20, sampleX: 4, sampleW: 36, textX: 48 };
const assistLegendBox: LegendBox = { left: 70, top: 163, width: 207, height: 99, fs: 15.5, centers: [10.3, 33.7, 57, 85.3], rowH: 20, sampleX: 5, sampleW: 37, textX: 49 };

// ---------------- spider map ----------------
const RADAR_CX = 198;
const RADAR_CY = 180;
const RADAR_R = 148;

const radarSeries = [
  { key: 'init', values: radarInit, color: PURPLE, marker: 'circle' as MarkerKind, ms: 11, lw: 1, fill: 0 },
  { key: 'rl1', values: radarRL1, color: BLUE, marker: 'triUp' as MarkerKind, ms: 13, lw: 1, fill: 0.07 },
  { key: 'rl2', values: radarRL2, color: RED, marker: 'triRight' as MarkerKind, ms: 13, lw: 1, fill: 0.07 },
  { key: 'rl3', values: radarRL3, color: ORANGE, marker: 'triDown' as MarkerKind, ms: 13, lw: 1, fill: 0.07 },
  { key: 'rl4', values: radarRL4, color: INDIGO, marker: 'triLeft' as MarkerKind, ms: 13, lw: 1, fill: 0.1 },
  { key: 'morl', values: radarMorl, color: GOLD, marker: 'star' as MarkerKind, ms: 15, lw: 2, fill: 0.25 },
  { key: 'rs', values: radarRs, color: GREEN, marker: 'square' as MarkerKind, ms: 12, lw: 2.5, fill: 0.3 },
];

const radarRows = RADAR_AXES.map((axis, a) => {
  const row: Record<string, any> = { axis };
  const outer = radarRings[a][2];
  radarSeries.forEach((s) => {
    row[s.key] = (s.values[a] - radarInit[a]) / (outer - radarInit[a]);
  });
  return row;
});

const radarLegend: LegendItem[] = [
  { label: 'LLaMA init', color: PURPLE, marker: 'circle', ms: 11, lw: 1.5 },
  { label: 'RL: $R_1$', color: BLUE, marker: 'triUp', ms: 12, lw: 1.5 },
  { label: 'RL: $R_2$', color: RED, marker: 'triRight', ms: 12, lw: 1.5 },
  { label: 'RL: $R_3$', color: ORANGE, marker: 'triDown', ms: 12, lw: 1.5 },
  { label: 'RL: $R_4$', color: INDIGO, marker: 'triLeft', ms: 12, lw: 1.5 },
  { label: 'MORL: ', color: GOLD, marker: 'star', ms: 14, lw: 2, extra: 'sumR' },
  { label: 'RS: ', color: GREEN, marker: 'square', ms: 11, lw: 2.5, extra: 'sumTheta' },
];
const radarLegendBox: LegendBox = { left: 12, top: 210, width: 152, height: 142, fs: 13, centers: [10, 27.5, 46, 64, 83, 102.5, 124], rowH: 16, sampleX: 3, sampleW: 28, textX: 41 };

const axisAngle = (a: number) => ((90 - a * 90) * Math.PI) / 180;

// axis name offsets: [outward distance, extra downward shift]
const RADAR_LABEL_OFFSET: Pt[] = [[18, 0], [18, 13], [9, 0], [18, 13]];

function RadarTick(p: any) {
  const a = RADAR_AXES.indexOf(p.payload?.value);
  if (a < 0) return <g />;
  const ang = axisAngle(a);
  const [d, down] = RADAR_LABEL_OFFSET[a];
  const x = RADAR_CX + (RADAR_R + d) * Math.cos(ang);
  const y = RADAR_CY - (RADAR_R + d) * Math.sin(ang) + down;
  return (
    <text x={x} y={y + 5} textAnchor="middle" fontFamily={SERIF} fontSize={17} fill="#111">
      {mathTspans(`$R_${a + 1}$`, 17)}
    </text>
  );
}

function SpiderPanel() {
  return (
    <div style={{ position: 'absolute', left: 770, top: 440, width: 376, height: 350 }}>
      <svg width={376} height={350} style={{ position: 'absolute', left: 0, top: 0 }}>
        {radarRings.map((ring, a) =>
          ring.map((v, k) => {
            const r = ((k + 1) / 3) * RADAR_R;
            const ang = axisAngle(a);
            const x = RADAR_CX + r * Math.cos(ang);
            const y = RADAR_CY - r * Math.sin(ang);
            return (
              <text key={`${a}-${k}`} x={x} y={y + 2.5} fontFamily={SERIF} fontSize={8.5} fill="#444">
                {fmt(3)(v)}
              </text>
            );
          })
        )}
      </svg>
      <div style={{ position: 'absolute', left: 0, top: 0 }}>
        <RadarChart width={376} height={350} cx={RADAR_CX} cy={RADAR_CY} outerRadius={RADAR_R} data={radarRows} startAngle={90} endAngle={-270} margin={{ top: 0, right: 0, bottom: 0, left: 0 }}>
          <PolarGrid gridType="circle" polarRadius={[RADAR_R / 3, (2 * RADAR_R) / 3]} radialLines={false} stroke="#a0a0a0" />
          <PolarAngleAxis dataKey="axis" axisLineType="circle" axisLine={{ stroke: '#333' }} stroke="#333" tickLine={false} tick={RadarTick} />
          <PolarRadiusAxis domain={[0, 1]} type="number" tick={false} axisLine={false} angle={90} />
          {radarSeries.map((s) => (
            <Radar
              key={s.key}
              dataKey={s.key}
              stroke={s.color}
              strokeWidth={s.lw}
              fill={s.color}
              fillOpacity={s.fill}
              isAnimationActive={false}
              dot={(p: any) => <Marker key={`${s.key}-${p.index}-${p.cx}`} kind={s.marker} cx={p.cx} cy={p.cy} size={s.ms} color={s.color} />}
            />
          ))}
        </RadarChart>
      </div>
      <LegendPanel box={radarLegendBox} items={radarLegend} />
      <Caption text="(f) Assistant: spider map." cx={188} top={386} />
    </div>
  );
}

export default function App() {
  return (
    <div style={{ position: 'absolute', left: 0, top: 0, width: 1146, height: 852, background: '#fff', overflow: 'hidden' }}>
      <ChartPanel
        frame={newsFrame}
        traces={[
          ...muTraces(newsTraj),
          { path: newsMorlFront, color: GOLD, lw: 2.5 },
          { points: newsMorlStars, color: GOLD, marker: 'star', ms: 10 },
          { path: newsRsFront, color: GREEN, lw: 4 },
          { points: newsRsDots, color: GREEN, marker: 'circle', ms: 8.5 },
        ]}
        notes={newsNotes}
        noteSize={14}
        legend={newsLegendBox}
        legendItems={muLegend}
        caption="(a) News summary."
        captionX={189}
        captionTop={365}
        ylabelX={21}
        xlabelY={343}
      />
      <ChartPanel
        frame={redditFrame}
        traces={[
          ...muTraces(redditTraj),
          { path: redditMorlFront, color: GOLD, lw: 2.5 },
          { points: redditMorlStars, color: GOLD, marker: 'star', ms: 10 },
          { path: redditRsFront, color: GREEN, lw: 4 },
          { points: redditRsDots, color: GREEN, marker: 'circle', ms: 8.5 },
        ]}
        notes={redditNotes}
        noteSize={14}
        legend={redditLegendBox}
        legendItems={muLegend}
        caption="(b) Reddit TL;DR summary."
        captionX={195}
        captionTop={365}
        ylabelX={24}
        xlabelY={343}
      />
      <ChartPanel
        frame={stackFrame}
        traces={pairTraces(stackR1Path, stackR1Stars, stackR2Path, stackR2Stars, stackMorlPath, stackMorlStars, stackRsPath, stackRsDots)}
        notes={stackNotes}
        noteSize={15.5}
        legend={stackLegendBox}
        legendItems={pairLegend}
        caption="(c) Stack Exchange Q&A."
        captionX={198}
        captionTop={365}
        ylabelX={21}
        xlabelY={343}
      />
      <ChartPanel
        frame={movieFrame}
        traces={pairTraces(movieR1Path, movieR1Stars, movieR2Path, movieR2Stars, movieMorlPath, movieMorlStars, movieRsPath, movieRsDots)}
        notes={movieNotes}
        noteSize={15.5}
        legend={movieLegendBox}
        legendItems={pairLegend}
        caption="(d) Useful movie review."
        captionX={191}
        captionTop={374}
        ylabelX={21}
        xlabelY={345}
      />
      <ChartPanel
        frame={assistFrame}
        traces={pairTraces(assistR1Path, assistR1Stars, assistR2Path, assistR2Stars, assistMorlPath, assistMorlStars, assistRsPath, assistRsDots)}
        notes={assistNotes}
        noteSize={15.5}
        legend={assistLegendBox}
        legendItems={pairLegend}
        caption="(e) Assistant."
        captionX={195}
        captionTop={374}
        ylabelX={24}
        xlabelY={345}
      />
      <SpiderPanel />
    </div>
  );
}
